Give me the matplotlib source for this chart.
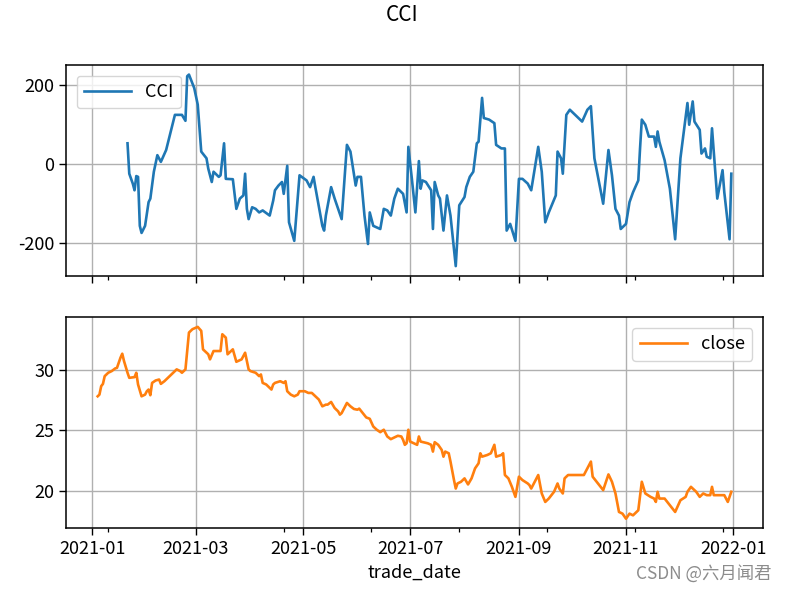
import matplotlib
matplotlib.use("Agg")
import matplotlib.pyplot as plt
import matplotlib.dates as mdates
import pandas as pd

plt.rcParams['font.family'] = ['Noto Sans CJK SC', 'DejaVu Sans']
plt.rcParams['axes.unicode_minus'] = False

cci_dates = [
    "2021-01-21", "2021-01-22", "2021-01-24", "2021-01-25", "2021-01-26", "2021-01-27",
    "2021-01-28", "2021-01-29", "2021-01-31", "2021-02-02", "2021-02-03", "2021-02-05",
    "2021-02-07", "2021-02-09", "2021-02-12", "2021-02-17", "2021-02-21", "2021-02-23",
    "2021-02-24", "2021-02-25", "2021-02-28", "2021-03-02", "2021-03-04", "2021-03-07",
    "2021-03-08", "2021-03-10", "2021-03-11", "2021-03-14", "2021-03-15", "2021-03-17",
    "2021-03-18", "2021-03-22", "2021-03-24", "2021-03-26", "2021-03-28", "2021-03-29",
    "2021-03-30", "2021-03-31", "2021-04-02", "2021-04-04", "2021-04-06", "2021-04-08",
    "2021-04-12", "2021-04-14", "2021-04-15", "2021-04-17", "2021-04-19", "2021-04-20",
    "2021-04-22", "2021-04-23", "2021-04-26", "2021-04-29", "2021-05-03", "2021-05-05",
    "2021-05-07", "2021-05-08", "2021-05-12", "2021-05-13", "2021-05-14", "2021-05-17",
    "2021-05-19", "2021-05-21", "2021-05-23", "2021-05-26", "2021-05-28", "2021-05-31",
    "2021-06-01", "2021-06-03", "2021-06-05", "2021-06-07", "2021-06-08", "2021-06-10",
    "2021-06-14", "2021-06-16", "2021-06-18", "2021-06-20", "2021-06-22", "2021-06-24",
    "2021-06-27", "2021-06-29", "2021-06-30", "2021-07-02", "2021-07-04", "2021-07-06",
    "2021-07-07", "2021-07-08", "2021-07-10", "2021-07-13", "2021-07-14", "2021-07-15",
    "2021-07-17", "2021-07-18", "2021-07-20", "2021-07-22", "2021-07-24", "2021-07-27",
    "2021-07-29", "2021-08-01", "2021-08-02", "2021-08-04", "2021-08-06", "2021-08-08",
    "2021-08-09", "2021-08-11", "2021-08-12", "2021-08-15", "2021-08-18", "2021-08-19",
    "2021-08-22", "2021-08-24", "2021-08-25", "2021-08-27", "2021-08-30", "2021-09-01",
    "2021-09-03", "2021-09-06", "2021-09-08", "2021-09-12", "2021-09-14", "2021-09-16",
    "2021-09-18", "2021-09-22", "2021-09-23", "2021-09-25", "2021-09-26", "2021-09-28",
    "2021-09-30", "2021-10-07", "2021-10-10", "2021-10-12", "2021-10-14", "2021-10-19",
    "2021-10-22", "2021-10-24", "2021-10-26", "2021-10-28", "2021-10-29", "2021-11-01",
    "2021-11-03", "2021-11-05", "2021-11-08", "2021-11-09", "2021-11-10", "2021-11-12",
    "2021-11-14", "2021-11-17", "2021-11-18", "2021-11-19", "2021-11-20", "2021-11-23",
    "2021-11-26", "2021-11-29", "2021-12-02", "2021-12-06", "2021-12-07", "2021-12-09",
    "2021-12-10", "2021-12-13", "2021-12-14", "2021-12-16", "2021-12-17", "2021-12-19",
    "2021-12-20", "2021-12-21", "2021-12-23", "2021-12-26", "2021-12-27", "2021-12-30",
    "2021-12-31",
]
cci_values = [
    52, -25, -50, -67, -31, -33,
    -157, -175, -157, -97, -88, -20,
    22, 5, 35, 124, 124, 109,
    222, 226, 192, 150, 31, 14,
    -12, -46, -20, -33, -29, 52,
    -38, -39, -114, -88, -80, -25,
    -114, -140, -110, -114, -123, -118,
    -131, -93, -67, -55, -46, -76,
    -5, -148, -195, -29, -42, -59,
    -33, -59, -157, -169, -131, -59,
    -88, -114, -140, 48, 31, -55,
    -33, -33, -131, -203, -123, -157,
    -165, -114, -118, -131, -88, -63,
    -76, -123, 43, -38, -123, 7,
    -63, -42, -46, -67, -165, -46,
    -80, -88, -169, -80, -131, -259,
    -105, -84, -59, -33, -20, 52,
    56, 167, 116, 112, 103, 48,
    39, 39, -169, -152, -195, -38,
    -38, -50, -67, 43, -20, -148,
    -123, -80, 31, 14, -25, 124,
    137, 107, 137, 146, 14, -101,
    35, -29, -114, -131, -165, -152,
    -97, -72, -42, 39, 112, 99,
    69, 69, 43, 82, 56, 9,
    -63, -191, 14, 154, 99, 158,
    107, 86, 26, 39, 18, 14,
    90, 31, -88, -16, -72, -191,
    -25,
]

close_dates = [
    "2021-01-04", "2021-01-05", "2021-01-06", "2021-01-07", "2021-01-08", "2021-01-10",
    "2021-01-12", "2021-01-14", "2021-01-15", "2021-01-17", "2021-01-18", "2021-01-19",
    "2021-01-21", "2021-01-22", "2021-01-25", "2021-01-26", "2021-01-27", "2021-01-29",
    "2021-01-31", "2021-02-01", "2021-02-02", "2021-02-03", "2021-02-04", "2021-02-06",
    "2021-02-08", "2021-02-09", "2021-02-11", "2021-02-14", "2021-02-17", "2021-02-18",
    "2021-02-20", "2021-02-21", "2021-02-23", "2021-02-25", "2021-02-27", "2021-03-02",
    "2021-03-04", "2021-03-05", "2021-03-08", "2021-03-09", "2021-03-11", "2021-03-14",
    "2021-03-15", "2021-03-16", "2021-03-18", "2021-03-19", "2021-03-22", "2021-03-24",
    "2021-03-27", "2021-03-29", "2021-03-31", "2021-04-01", "2021-04-04", "2021-04-06",
    "2021-04-07", "2021-04-08", "2021-04-10", "2021-04-12", "2021-04-13", "2021-04-14",
    "2021-04-15", "2021-04-18", "2021-04-20", "2021-04-21", "2021-04-22", "2021-04-24",
    "2021-04-26", "2021-04-28", "2021-04-29", "2021-05-02", "2021-05-04", "2021-05-06",
    "2021-05-08", "2021-05-10", "2021-05-12", "2021-05-14", "2021-05-15", "2021-05-17",
    "2021-05-19", "2021-05-21", "2021-05-22", "2021-05-23", "2021-05-26", "2021-05-28",
    "2021-05-30", "2021-06-01", "2021-06-02", "2021-06-04", "2021-06-06", "2021-06-08",
    "2021-06-10", "2021-06-12", "2021-06-14", "2021-06-16", "2021-06-18", "2021-06-20",
    "2021-06-22", "2021-06-24", "2021-06-26", "2021-06-27", "2021-06-28", "2021-06-29",
    "2021-06-30", "2021-07-01", "2021-07-03", "2021-07-05", "2021-07-06", "2021-07-07",
    "2021-07-11", "2021-07-13", "2021-07-14", "2021-07-15", "2021-07-17", "2021-07-19",
    "2021-07-20", "2021-07-21", "2021-07-23", "2021-07-24", "2021-07-26", "2021-07-27",
    "2021-07-28", "2021-07-30", "2021-08-01", "2021-08-03", "2021-08-05", "2021-08-07",
    "2021-08-09", "2021-08-10", "2021-08-11", "2021-08-14", "2021-08-16", "2021-08-18",
    "2021-08-19", "2021-08-22", "2021-08-23", "2021-08-24", "2021-08-26", "2021-08-28",
    "2021-08-30", "2021-08-31", "2021-09-01", "2021-09-03", "2021-09-06", "2021-09-07",
    "2021-09-08", "2021-09-10", "2021-09-12", "2021-09-14", "2021-09-16", "2021-09-18",
    "2021-09-21", "2021-09-23", "2021-09-24", "2021-09-26", "2021-09-27", "2021-09-29",
    "2021-10-02", "2021-10-08", "2021-10-10", "2021-10-12", "2021-10-13", "2021-10-16",
    "2021-10-19", "2021-10-22", "2021-10-24", "2021-10-26", "2021-10-28", "2021-10-30",
    "2021-11-01", "2021-11-03", "2021-11-05", "2021-11-08", "2021-11-10", "2021-11-12",
    "2021-11-15", "2021-11-17", "2021-11-18", "2021-11-19", "2021-11-20", "2021-11-23",
    "2021-11-26", "2021-11-29", "2021-12-02", "2021-12-05", "2021-12-06", "2021-12-08",
    "2021-12-11", "2021-12-13", "2021-12-15", "2021-12-17", "2021-12-19", "2021-12-20",
    "2021-12-21", "2021-12-24", "2021-12-27", "2021-12-29", "2021-12-31",
]
close_values = [
    27.83, 27.97, 28.67, 28.86, 29.50, 29.78,
    29.92, 30.14, 30.19, 31.03, 31.36, 30.75,
    29.78, 29.36, 29.42, 29.78, 28.81, 27.83,
    27.97, 28.25, 28.39, 27.92, 28.94, 29.14,
    29.22, 28.86, 29.08, 29.50, 29.92, 30.06,
    29.92, 29.78, 30.06, 33.11, 33.39, 33.58,
    33.25, 31.72, 31.31, 30.89, 31.58, 31.58,
    31.58, 32.97, 32.69, 31.31, 31.72, 30.69,
    30.89, 31.44, 30.06, 29.92, 29.78, 29.50,
    29.64, 28.94, 28.81, 28.53, 28.39, 28.81,
    28.94, 29.08, 28.94, 29.08, 28.25, 27.97,
    27.83, 27.97, 28.25, 28.25, 28.11, 28.11,
    27.83, 27.56, 27.00, 27.14, 27.14, 27.36,
    26.86, 26.58, 26.31, 26.44, 27.28, 27.00,
    26.78, 26.72, 26.81, 26.44, 26.08, 25.97,
    25.33, 25.06, 24.86, 25.06, 24.50, 24.28,
    24.42, 24.56, 24.50, 24.22, 23.81, 23.94,
    25.06, 24.08, 23.94, 23.81, 24.50, 24.08,
    23.94, 23.81, 23.25, 24.03, 23.81, 23.39,
    22.83, 23.25, 23.11, 22.42, 20.89, 20.19,
    20.61, 20.75, 21.03, 20.53, 21.03, 21.86,
    22.28, 23.11, 22.83, 22.97, 23.11, 23.81,
    22.83, 22.97, 23.11, 21.31, 21.03, 20.33,
    19.50, 20.33, 21.17, 20.89, 20.61, 20.47,
    20.19, 20.75, 21.31, 19.78, 19.08, 19.36,
    19.92, 20.61, 20.19, 19.78, 21.03, 21.31,
    21.31, 21.31, 21.86, 22.42, 21.17, 20.61,
    20.06, 21.36, 20.75, 19.78, 18.25, 18.11,
    17.69, 18.11, 17.97, 18.39, 20.75, 19.78,
    19.50, 19.36, 19.08, 19.92, 19.36, 19.36,
    18.81, 18.25, 19.22, 19.50, 19.92, 20.33,
    19.92, 19.50, 19.78, 19.64, 19.64, 20.33,
    19.64, 19.64, 19.64, 19.08, 19.92,
]

series_names = ["CCI", "close"]
title_text = "CCI"
xlabel_text = "trade_date"
watermark_text = "CSDN @六月闻君"

cci = pd.Series(cci_values, index=pd.to_datetime(cci_dates))
close = pd.Series(close_values, index=pd.to_datetime(close_dates))

W, H = 789, 591
fig = plt.figure(figsize=(W / 100, H / 100), dpi=100)
ax1 = fig.add_axes([66 / W, 1 - 275.7 / H, 697 / W, 210.7 / H])
ax2 = fig.add_axes([66 / W, 1 - 528.3 / H, 697 / W, 211 / H], sharex=ax1)

fs = 13
ax1.plot(cci.index, cci.values, color='#1f77b4', lw=1.9, label=series_names[0])
ax2.plot(close.index, close.values, color='#ff7f0e', lw=1.9, label=series_names[1])

major_locs = pd.to_datetime(["2021-01-01", "2021-03-01", "2021-05-01", "2021-07-01",
                             "2021-09-01", "2021-11-01", "2022-01-01"])
minor_locs = pd.to_datetime(["2021-01-10", "2021-03-01", "2021-04-20", "2021-06-09",
                             "2021-07-29", "2021-09-17", "2021-11-06", "2021-12-26"])

for ax in (ax1, ax2):
    ax.grid(True, color='#b0b0b0', lw=1.0)
    ax.set_axisbelow(True)
    for s in ax.spines.values():
        s.set_linewidth(1.1)
    ax.tick_params(axis='both', which='major', labelsize=fs, length=4.8, width=1.0)
    ax.tick_params(axis='x', which='minor', length=3, width=0.9)
    ax.xaxis.set_major_locator(matplotlib.ticker.FixedLocator(mdates.date2num(major_locs)))
    ax.xaxis.set_minor_locator(matplotlib.ticker.FixedLocator(mdates.date2num(minor_locs)))
    ax.xaxis.set_major_formatter(mdates.DateFormatter('%Y-%m'))

ax1.set_yticks([-200, 0, 200])
ax2.set_yticks([20, 25, 30])
ax1.tick_params(axis='x', labelbottom=False)

ax1.legend(loc='upper left', fontsize=fs, handlelength=2.6, borderaxespad=0.6)
ax2.legend(loc='upper right', fontsize=fs, handlelength=2.6, borderaxespad=0.6)

ax2.set_xlabel(xlabel_text, fontsize=fs, labelpad=4)
fig.text(402 / W, 1 - 15 / H, title_text, ha='center', va='center', fontsize=15)
fig.text(771 / W, 1 - 573.5 / H, watermark_text, ha='right', va='center',
         fontsize=12.5, color='#8c8c8c')

fig.savefig('out.png', dpi=100)
